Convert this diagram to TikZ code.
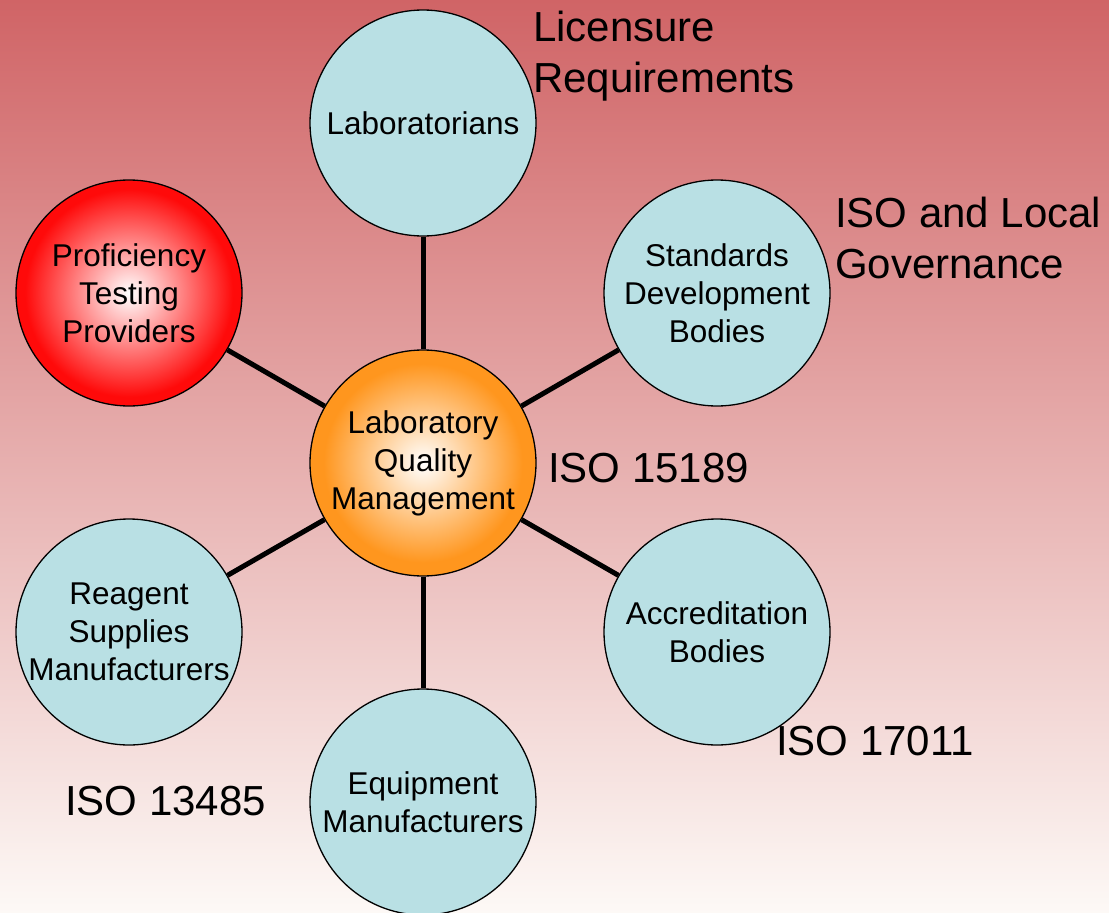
\documentclass[tikz,border=0pt]{standalone}
\usepackage{fontspec}
\setmainfont{Liberation Sans}
\definecolor{satfill}{RGB}{185,224,228}
\definecolor{lqmorange}{RGB}{255,150,30}
\definecolor{ptpred}{RGB}{255,10,10}
\definecolor{bgtop}{RGB}{208,100,102}
\definecolor{bgbottom}{RGB}{253,249,246}
\pgfdeclareradialshading{orangeglow}{\pgfpoint{0bp}{0bp}}{color(0bp)=(white); color(22bp)=(lqmorange); color(25bp)=(lqmorange); color(50bp)=(lqmorange)}
\pgfdeclareradialshading{redglow}{\pgfpoint{0bp}{0bp}}{color(0bp)=(white); color(23bp)=(ptpred); color(25bp)=(ptpred); color(50bp)=(ptpred)}

\begin{document}
\begin{tikzpicture}[x = 1pt, y = -1pt,
    sat/.style  = {circle, draw, line width = 1.3pt, fill = satfill, minimum size = 226pt, inner sep = 0pt,
                   align = center, font = \fontsize{31.5}{38}\selectfont},
    hub/.style  = {sat, shade, shading = orangeglow},
    hot/.style  = {sat, shade, shading = redglow},
    iso/.style  = {anchor = west, inner sep = 0pt, align = left, font = \fontsize{42}{51}\selectfont},
    link/.style = {line width = 5pt}]
  \clip (0,0) rectangle (1109,913);
  \shade[top color = bgtop, bottom color = bgbottom] (0,0) rectangle (1109,913);

  \node[hub] (lqm)     at (423,463) {Laboratory\\Quality\\Management};
  \node[sat] (labs)    at (423,123) {Laboratorians};
  \node[sat] (sdb)     at (717,293) {Standards\\Development\\Bodies};
  \node[sat] (acc)     at (717,632) {Accreditation\\Bodies};
  \node[sat] (equip)   at (423,802) {Equipment\\Manufacturers};
  \node[sat] (reagent) at (129,632) {Reagent\\Supplies\\Manufacturers};
  \node[hot] (ptp)     at (129,293) {Proficiency\\Testing\\Providers};

  \path[link] (lqm) edge (labs)  (lqm) edge (sdb)     (lqm) edge (acc)
              (lqm) edge (equip) (lqm) edge (reagent) (lqm) edge (ptp);

  \node[iso] (licensure) at (533,56)  {Licensure\\Requirements};
  \node[iso] (isolocal)  at (835,238) {ISO and Local\\Governance};
  \node[iso] (iso15189)  at (548,468) {ISO 15189};
  \node[iso] (iso17011)  at (776,741) {ISO 17011};
  \node[iso] (iso13485)  at (65,801)  {ISO 13485};
\end{tikzpicture}
\end{document}
